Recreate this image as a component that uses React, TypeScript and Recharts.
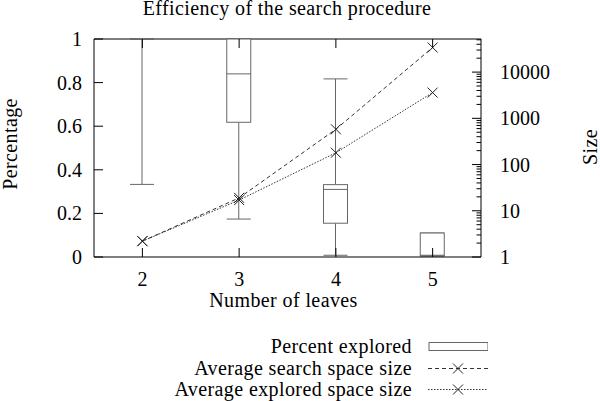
import React from 'react';
import { ComposedChart, Bar, Line, XAxis, YAxis, Legend } from 'recharts';

const leaves = ['2', '3', '4', '5'];
const whiskerLow = [0.333, 0.174, 0.008, 0.005];
const whiskerHigh = [1, 1, 0.817, 0.11];
const boxLow = [1, 0.618, 0.155, 0.005];
const boxHigh = [1, 1, 0.332, 0.11];
const medians = [1, 0.84, 0.31, 0.008];
const searchSize = [2.2, 19, 580, 34000];
const exploredSize = [2.2, 17, 180, 3600];

const percentTicks = [0, 0.2, 0.4, 0.6, 0.8, 1];
const sizeMajorTicks = [1, 10, 100, 1000, 10000];
const sizeMinorSteps = [2, 3, 4, 5, 6, 7, 8, 9];
const SIZE_MAX = 52000;

const seriesNames = ['Percent explored', 'Average search space size', 'Average explored space size'];

const data = leaves.map((l, i) => ({
  leaves: l,
  whisk: [whiskerLow[i], whiskerHigh[i]],
  boxLow: boxLow[i],
  boxHigh: boxHigh[i],
  median: medians[i],
  search: searchSize[i],
  explored: exploredSize[i],
}));

const sizeTicks = [
  ...sizeMajorTicks,
  ...sizeMajorTicks.flatMap(d => sizeMinorSteps.map(m => m * d)).filter(v => v <= SIZE_MAX),
].sort((a, b) => a - b);

const SERIF = '"Liberation Serif", "Times New Roman", serif';
const FS = 20;
const LS = 0.4; // words in the original run a bit wider than Liberation Serif
const PLOT_TOP = 39;
const BOX_GRAY = '#666';
const LINE_GRAY = '#333';

function BoxShape(props: any) {
  const { x, y, width, height, payload } = props;
  const [lo, hi] = payload.whisk;
  const top = Math.min(y, y + height);
  const h = Math.abs(height);
  const py = (v: number) => top + ((hi - v) / (hi - lo)) * h;
  const cx = x + width / 2;
  const yHi = py(hi), yLo = py(lo), bTop = py(payload.boxHigh), bBot = py(payload.boxLow), yMed = py(payload.median);
  return (
    <g stroke={BOX_GRAY} strokeWidth={1} fill="none">
      <line x1={cx} x2={cx} y1={yHi} y2={bTop} />
      <line x1={cx} x2={cx} y1={bBot} y2={yLo} />
      <line x1={x} x2={x + width} y1={yHi} y2={yHi} />
      <line x1={x} x2={x + width} y1={yLo} y2={yLo} />
      <rect x={x} y={bTop} width={width} height={Math.max(0, bBot - bTop)} fill="#fff" />
      <line x1={x} x2={x + width} y1={yMed} y2={yMed} />
    </g>
  );
}

function Cross(props: any) {
  const { cx, cy, index } = props;
  if (cx == null || cy == null) return <g key={index} />;
  const r = 5;
  return (
    <path key={index} d={`M${cx - r},${cy - r}L${cx + r},${cy + r}M${cx - r},${cy + r}L${cx + r},${cy - r}`} stroke="#222" strokeWidth={1} fill="none" />
  );
}

function XTick(props: any) {
  const { x, y, payload } = props;
  return (
    <g>
      <line x1={x} x2={x} y1={y} y2={y - 9} stroke="#000" />
      <line x1={x} x2={x} y1={PLOT_TOP} y2={PLOT_TOP + 9} stroke="#000" />
      <text x={x} y={y + 22} textAnchor="middle" dominantBaseline="central" fontFamily={SERIF} fontSize={FS} fill="#000">
        {payload.value}
      </text>
    </g>
  );
}

function LeftTick(props: any) {
  const { x, y, payload } = props;
  return (
    <g>
      <line x1={x} x2={x + 9} y1={y} y2={y} stroke="#000" />
      <text x={x - 12} y={y} textAnchor="end" dominantBaseline="central" fontFamily={SERIF} fontSize={FS} fill="#000">
        {String(payload.value)}
      </text>
    </g>
  );
}

function RightTick(props: any) {
  const { x, y, payload } = props;
  const major = sizeMajorTicks.includes(payload.value);
  return (
    <g>
      <line x1={x} x2={x - (major ? 9 : 4.5)} y1={y} y2={y} stroke="#000" />
      {major && (
        <text x={x + 19} y={y} textAnchor="start" dominantBaseline="central" fontFamily={SERIF} fontSize={FS} fill="#000">
          {String(payload.value)}
        </text>
      )}
    </g>
  );
}

function KeySample({ kind }: { kind: number }) {
  if (kind === 0) {
    return <rect x={1} y={6.5} width={59} height={8} fill="none" stroke={BOX_GRAY} />;
  }
  return (
    <g>
      <line x1={0} x2={60} y1={10.5} y2={10.5} stroke={LINE_GRAY} strokeDasharray={kind === 1 ? '4 3' : '1.5 1.5'} />
      <path d="M25,5.5L35,15.5M25,15.5L35,5.5" stroke="#222" fill="none" />
    </g>
  );
}

function KeyContent() {
  return (
    <div style={{ fontFamily: SERIF, fontSize: FS, letterSpacing: LS, color: '#000' }}>
      {seriesNames.map((name, i) => (
        <div key={name} style={{ display: 'flex', height: 21.5, lineHeight: '21.5px', alignItems: 'center' }}>
          <span style={{ width: 412, textAlign: 'right', whiteSpace: 'nowrap', fontFamily: SERIF }}>{name}</span>
          <svg width={76} height={21} style={{ display: 'block' }}>
            <g transform="translate(16,0)">
              <KeySample kind={i} />
            </g>
          </svg>
        </div>
      ))}
    </div>
  );
}

export default function App() {
  return (
    <div style={{ position: 'absolute', left: 0, top: 0, width: 600, height: 401, background: '#fff' }}>
      <div style={{ position: 'absolute', left: 0, top: 0, width: 574, textAlign: 'center', fontFamily: SERIF, fontSize: FS, letterSpacing: LS, lineHeight: '16px', whiteSpace: 'nowrap', zIndex: 2 }}>
        Efficiency of the search procedure
      </div>
      <ComposedChart width={600} height={401} data={data} margin={{ top: 39, right: 39, bottom: 114, left: 34 }}>
        <XAxis
          dataKey="leaves"
          height={30}
          tickLine={false}
          tickSize={0}
          tickMargin={0}
          tick={<XTick />}
          axisLine={{ stroke: '#000' }}
          label={(p: any) => {
            const vb = p.viewBox;
            return (
              <text x={vb.x + vb.width / 2 - 4} y={vb.y + 43} textAnchor="middle" dominantBaseline="central" fontFamily={SERIF} fontSize={FS} letterSpacing={LS} fill="#000">
                Number of leaves
              </text>
            );
          }}
        />
        <YAxis
          yAxisId="left"
          width={60}
          domain={[0, 1]}
          ticks={percentTicks}
          tickLine={false}
          tickSize={0}
          tickMargin={0}
          tick={<LeftTick />}
          axisLine={{ stroke: '#000' }}
          label={(p: any) => {
            const vb = p.viewBox;
            const cy = vb.y + vb.height / 2 - 4;
            return (
              <text x={10} y={cy} transform={`rotate(-90, 10, ${cy})`} textAnchor="middle" dominantBaseline="central" fontFamily={SERIF} fontSize={FS} letterSpacing={LS} fill="#000">
                Percentage
              </text>
            );
          }}
        />
        <YAxis
          yAxisId="right"
          orientation="right"
          width={80}
          scale="log"
          domain={[1, SIZE_MAX]}
          allowDataOverflow
          ticks={sizeTicks}
          interval={0}
          tickLine={false}
          tickSize={0}
          tickMargin={0}
          tick={<RightTick />}
          axisLine={{ stroke: '#000' }}
          label={(p: any) => {
            const vb = p.viewBox;
            const cy = vb.y + vb.height / 2 - 1;
            return (
              <text x={590} y={cy} transform={`rotate(-90, 590, ${cy})`} textAnchor="middle" dominantBaseline="central" fontFamily={SERIF} fontSize={FS} letterSpacing={LS} fill="#000">
                Size
              </text>
            );
          }}
        />
        <line x1={94} x2={481} y1={PLOT_TOP} y2={PLOT_TOP} stroke="#000" />
        <Bar yAxisId="left" dataKey="whisk" name={seriesNames[0]} barSize={24} shape={<BoxShape />} isAnimationActive={false} />
        <Line yAxisId="right" dataKey="search" name={seriesNames[1]} type="linear" stroke={LINE_GRAY} strokeWidth={1} strokeDasharray="4 3" dot={Cross} activeDot={false} isAnimationActive={false} />
        <Line yAxisId="right" dataKey="explored" name={seriesNames[2]} type="linear" stroke={LINE_GRAY} strokeWidth={1} strokeDasharray="1.5 1.5" dot={Cross} activeDot={false} isAnimationActive={false} />
        <Legend layout="vertical" align="center" verticalAlign="middle" wrapperStyle={{ left: 0, top: 336, width: 600 }} content={<KeyContent />} />
      </ComposedChart>
    </div>
  );
}
